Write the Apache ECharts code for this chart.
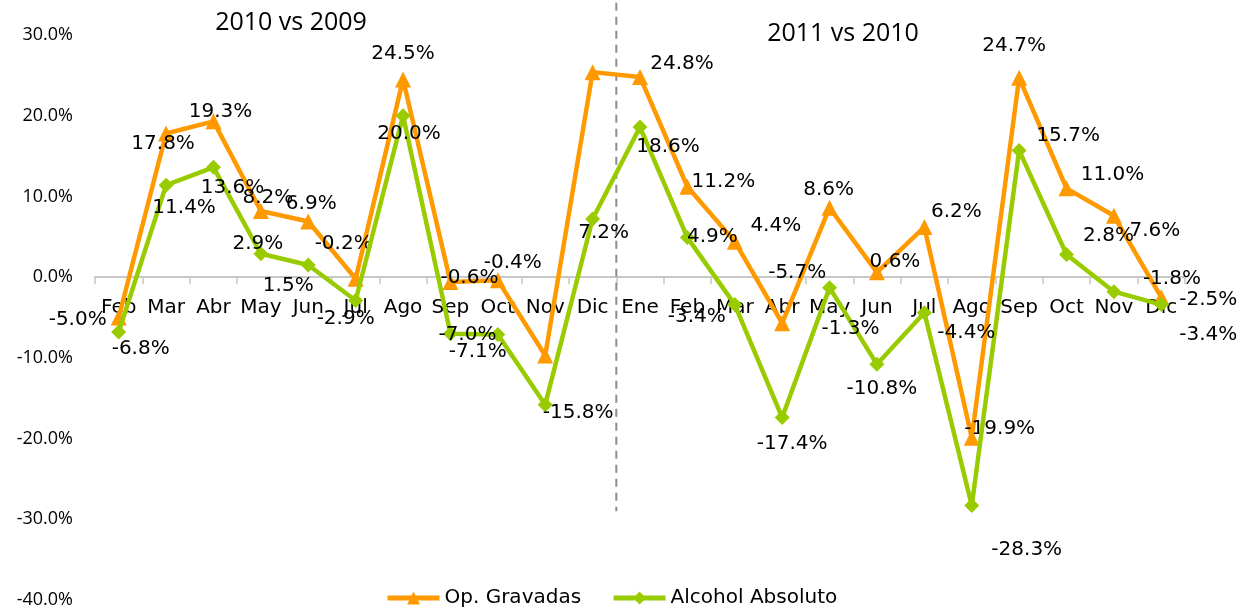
<!DOCTYPE html>
<html>
<head>
<meta charset="utf-8">
<script src="https://cdn.jsdelivr.net/npm/echarts@6/dist/echarts.min.js"></script>
<style>
  html, body { margin: 0; padding: 0; background: #fff; }
  #chart { width: 1244px; height: 614px; }
</style>
</head>
<body>
<div id="chart"></div>
<script>
var months = ['Feb','Mar','Abr','May','Jun','Jul','Ago','Sep','Oct','Nov','Dic',
              'Ene','Feb','Mar','Abr','May','Jun','Jul','Ago','Sep','Oct','Nov','Dic'];
var opGravadas = [-5.0, 17.8, 19.3, 8.2, 6.9, -0.2, 24.5, -0.6, -0.4, -9.7, 25.4,
                  24.8, 11.2, 4.4, -5.7, 8.6, 0.6, 6.2, -19.9, 24.7, 11.0, 7.6, -2.5];
var alcoholAbs = [-6.8, 11.4, 13.6, 2.9, 1.5, -2.9, 20.0, -7.0, -7.1, -15.8, 7.2,
                  18.6, 4.9, -3.4, -17.4, -1.3, -10.8, -4.4, -28.3, 15.7, 2.8, -1.8, -3.4];
var yTicks = [-40, -30, -20, -10, 0, 10, 20, 30];

// label offsets from each point (null = no label shown)
var opOffsets = [[-41,2],[-3,10],[7,-10],[7,-13],[3,-18],[-12,-35],[0,-26],[19,-4],[15,-18],null,null,
                 [42,-13],[36,-5],[41,-16],[15,-50],[-1,-18],[18,-11],[32,-15],[28,-9],[-5,-32],[46,-14],[41,15],[47,2]];
var alOffsets = [[22,17],[18,23],[19,20],[-3,-10],[-20,21],[-10,18],[6,18],[17,1],[-20,17],[33,8],[11,14],
                 [28,20],[25,-1],[-38,12],[10,26],[21,41],[5,24],[42,20],[55,44],[49,-15],[42,-19],[58,-13],[47,30]];

function withLabels(values, offsets) {
  return values.map(function (v, i) {
    var o = offsets[i];
    return { value: v, label: o ? { show: true, offset: o } : { show: false } };
  });
}

var pct = function (v) { return Number(v).toFixed(1) + '%'; };

var chart = echarts.init(document.getElementById('chart'));
var labelStyle = {
  show: true,
  position: 'inside',
  color: '#000',
  fontFamily: 'DejaVu Sans',
  fontSize: 20,
  formatter: function (p) { return pct(p.value); }
};

var option = {
  animation: false,
  backgroundColor: '#fff',
  grid: { left: 95, right: 59, top: 35, bottom: 14, outerBoundsMode: 'none', containLabel: false },
  title: [
    { text: '2010 vs 2009', left: 286, top: 5, textAlign: 'center',
      textStyle: { fontFamily: 'Open Sans', fontSize: 25, fontWeight: 'normal', color: '#000' } },
    { text: '2011 vs 2010', left: 838, top: 16, textAlign: 'center',
      textStyle: { fontFamily: 'Open Sans', fontSize: 25, fontWeight: 'normal', color: '#000' } }
  ],
  legend: {
    left: 380, bottom: 1,
    itemWidth: 52, itemHeight: 16, itemGap: 30,
    lineStyle: { width: 5 },
    textStyle: { fontFamily: 'DejaVu Sans', fontSize: 20, color: '#000' },
    data: ['Op. Gravadas', 'Alcohol Absoluto']
  },
  xAxis: {
    type: 'category',
    data: months,
    boundaryGap: true,
    axisLine: { onZero: false, lineStyle: { color: '#c8c8c8', width: 2 } },
    axisTick: { show: true, interval: 0, length: 7, lineStyle: { color: '#c8c8c8', width: 1.5 } },
    axisLabel: { interval: 0, margin: 21, color: '#000', fontFamily: 'DejaVu Sans', fontSize: 20 },
    splitLine: { show: false }
  },
  yAxis: {
    type: 'value',
    min: yTicks[0], max: yTicks[yTicks.length - 1], interval: 10,
    axisLine: { show: false },
    axisTick: { show: false },
    splitLine: { show: false },
    axisLabel: { margin: 22, color: '#000', fontFamily: 'Open Sans', fontSize: 18, formatter: pct }
  },
  series: [
    {
      name: 'Op. Gravadas',
      type: 'line',
      data: withLabels(opGravadas, opOffsets),
      symbol: 'triangle',
      symbolSize: 16,
      color: '#ff9900',
      lineStyle: { width: 4.5, color: '#ff9900' },
      itemStyle: { color: '#ff9900' },
      label: labelStyle,
      z: 2
    },
    {
      name: 'Alcohol Absoluto',
      type: 'line',
      data: withLabels(alcoholAbs, alOffsets),
      symbol: 'diamond',
      symbolSize: 15,
      color: '#99cc00',
      lineStyle: { width: 4.5, color: '#99cc00' },
      itemStyle: { color: '#99cc00' },
      label: labelStyle,
      z: 3
    }
  ]
};
chart.setOption(option);

// move the category axis (line + labels) up to the zero line
var yZero = chart.convertToPixel({ yAxisIndex: 0 }, 0);
var yMin = chart.convertToPixel({ yAxisIndex: 0 }, yTicks[0]);

// dashed separator between Dic 2010 and Ene 2011
var xa = chart.convertToPixel({ xAxisIndex: 0 }, 10);
var xb = chart.convertToPixel({ xAxisIndex: 0 }, 11);
var sepX = (xa + xb) / 2;
var yTop = chart.convertToPixel({ yAxisIndex: 0 }, 34);
var yBot = chart.convertToPixel({ yAxisIndex: 0 }, -29);
chart.setOption({
  xAxis: { offset: yZero - yMin },
  graphic: [{
    type: 'line',
    shape: { x1: sepX, y1: yTop, x2: sepX, y2: yBot },
    style: { stroke: '#8c8c8c', lineWidth: 2, lineDash: [8, 6] },
    z: 1
  }]
});
</script>
</body>
</html>
